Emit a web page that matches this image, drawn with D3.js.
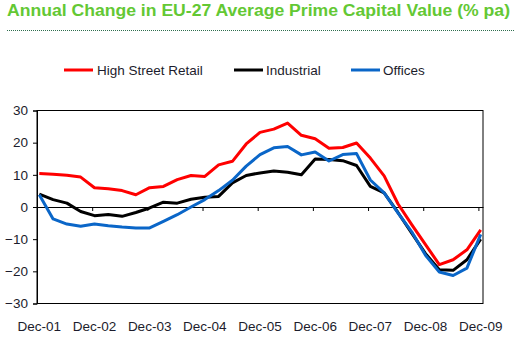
<!DOCTYPE html>
<html>
<head>
<meta charset="utf-8">
<script src="https://cdn.jsdelivr.net/npm/d3@7"></script>
<style>
  html, body { margin: 0; padding: 0; background: #fff; }
  svg { display: block; font-family: "Liberation Sans", Arial, sans-serif; }
</style>
</head>
<body>
<svg id="chart" width="516" height="337"></svg>
<script>
// Quarterly annual change, % pa
const quarters = [
  "Dec-01", "Mar-02", "Jun-02", "Sep-02", "Dec-02", "Mar-03", "Jun-03", "Sep-03",
  "Dec-03", "Mar-04", "Jun-04", "Sep-04", "Dec-04", "Mar-05", "Jun-05", "Sep-05",
  "Dec-05", "Mar-06", "Jun-06", "Sep-06", "Dec-06", "Mar-07", "Jun-07", "Sep-07",
  "Dec-07", "Mar-08", "Jun-08", "Sep-08", "Dec-08", "Mar-09", "Jun-09", "Sep-09",
  "Dec-09"
];
const highStreetRetail = [
  10.4, 10.2, 9.9, 9.3, 6.0, 5.7, 5.1, 3.8,
  6.0, 6.4, 8.5, 9.8, 9.5, 13.1, 14.2, 19.6,
  23.2, 24.2, 26.1, 22.3, 21.2, 18.3, 18.5, 19.9,
  15.2, 9.7, 1.0, -5.5, -11.7, -17.9, -16.4, -13.3,
  -7.1
];
const industrial = [
  4.0, 2.3, 1.2, -1.4, -2.7, -2.3, -2.9, -1.7,
  -0.3, 1.5, 1.2, 2.4, 3.0, 3.3, 7.5, 9.8,
  10.6, 11.2, 10.8, 10.0, 14.9, 14.8, 14.4, 12.9,
  6.4, 4.4, -1.7, -8.1, -14.5, -19.5, -19.7, -16.4,
  -10.0
];
const offices = [
  3.8, -3.7, -5.3, -6.0, -5.3, -5.8, -6.2, -6.5,
  -6.5, -4.5, -2.4, 0.0, 2.3, 5.1, 8.3, 12.7,
  16.3, 18.4, 18.8, 16.2, 17.1, 14.3, 16.3, 16.6,
  8.4, 4.4, -1.8, -7.7, -15.0, -20.2, -21.3, -19.0,
  -8.5
];
const yearLabels = ["Dec-01", "Dec-02", "Dec-03", "Dec-04", "Dec-05", "Dec-06", "Dec-07", "Dec-08", "Dec-09"];
const yTicks = [-30, -20, -10, 0, 10, 20, 30];

const series = [
  { name: "High Street Retail", values: highStreetRetail, color: "#ff0000" },
  { name: "Industrial", values: industrial, color: "#000000" },
  { name: "Offices", values: offices, color: "#0a66c8" }
];

const svg = d3.select("#chart");
const plot = { left: 37, right: 483, top: 110.5, bottom: 303.5 };

// monthly date axis: each quarter sits in the middle of its month slot
const monthOf = (label) => {
  const names = ["Jan","Feb","Mar","Apr","May","Jun","Jul","Aug","Sep","Oct","Nov","Dec"];
  const [m, y] = label.split("-");
  return (+y - 1) * 12 + names.indexOf(m) - 11;
};

const x = d3.scaleLinear().domain([-0.5, 96.5]).range([plot.left, plot.right]);
const y = d3.scaleLinear().domain([-30, 30]).range([plot.bottom, plot.top]);

// Title
svg.append("text")
  .attr("x", 7)
  .attr("y", 16)
  .attr("fill", "#63c834")
  .attr("font-size", 16)
  .attr("font-weight", "bold")
  .attr("textLength", 503)
  .attr("lengthAdjust", "spacingAndGlyphs")
  .text("Annual Change in EU-27 Average Prime Capital Value (% pa)");

svg.append("line")
  .attr("x1", 7).attr("x2", 515)
  .attr("y1", 30.5).attr("y2", 30.5)
  .attr("stroke", "#2f6e4e")
  .attr("stroke-width", 1)
  .attr("stroke-dasharray", "1,1");

// Legend
const legendPos = [
  { lx: 64, tx: 97 },
  { lx: 234, tx: 266 },
  { lx: 351, tx: 383 }
];
const legend = svg.append("g").attr("class", "legend");
series.forEach((s, i) => {
  const p = legendPos[i];
  legend.append("line")
    .attr("x1", p.lx).attr("x2", p.lx + 29)
    .attr("y1", 70).attr("y2", 70)
    .attr("stroke", s.color)
    .attr("stroke-width", 3);
  legend.append("text")
    .attr("x", p.tx)
    .attr("y", 75)
    .attr("font-size", 13.5)
    .attr("fill", "#1c1c2c")
    .text(s.name);
});

// Plot frame
svg.append("rect")
  .attr("x", plot.left).attr("y", plot.top)
  .attr("width", plot.right - plot.left)
  .attr("height", plot.bottom - plot.top)
  .attr("fill", "none")
  .attr("stroke", "#000")
  .attr("stroke-width", 1);

// Y axis
const yAxis = svg.append("g")
  .attr("transform", `translate(${plot.left},0)`)
  .call(d3.axisLeft(y).tickValues(yTicks).tickSize(4).tickPadding(5).tickFormat(d3.format("d")));
yAxis.select(".domain").attr("stroke", "#000");
yAxis.selectAll("text")
  .attr("font-size", 13.5)
  .attr("fill", "#1c1c2c")
  .style("font-family", "Liberation Sans, Arial, sans-serif");

// X axis along zero, tick marks at year boundaries
const xAxis = svg.append("g")
  .attr("transform", `translate(0,${y(0)})`)
  .call(d3.axisBottom(x)
    .tickValues(d3.range(0, 9).map((k) => k * 12 - 0.5))
    .tickSize(4)
    .tickSizeOuter(0)
    .tickFormat(() => ""));
xAxis.select(".domain").attr("stroke", "#000");

// Year labels below the frame
svg.append("g")
  .selectAll("text")
  .data(yearLabels)
  .join("text")
  .attr("x", (d) => x(monthOf(d)))
  .attr("y", 331)
  .attr("text-anchor", "middle")
  .attr("font-size", 13.5)
  .attr("fill", "#1c1c2c")
  .text((d) => d);

// Lines
const line = d3.line()
  .x((d, i) => x(monthOf(quarters[i])))
  .y((d) => y(d));

svg.append("g")
  .selectAll("path")
  .data(series)
  .join("path")
  .attr("d", (s) => line(s.values))
  .attr("fill", "none")
  .attr("stroke", (s) => s.color)
  .attr("stroke-width", 3)
  .attr("stroke-linejoin", "round");
</script>
</body>
</html>
